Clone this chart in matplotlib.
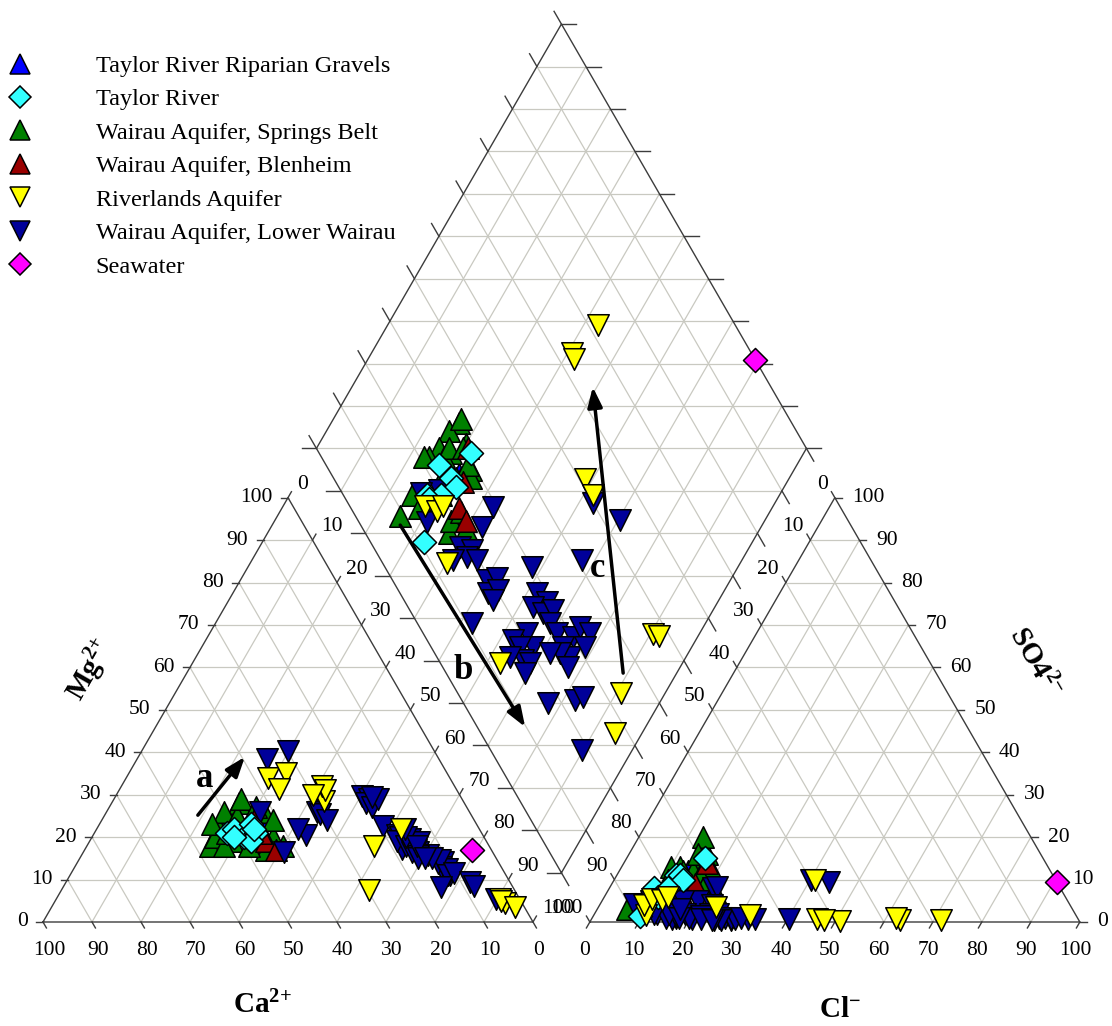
import numpy as np
import matplotlib
matplotlib.use('Agg')
import matplotlib.pyplot as plt
from matplotlib.lines import Line2D

plt.rcParams['font.family'] = ['Liberation Serif', 'DejaVu Serif']
plt.rcParams['mathtext.fontset'] = 'custom'
plt.rcParams['mathtext.rm'] = 'Liberation Serif'
plt.rcParams['mathtext.bf'] = 'Liberation Serif:bold'

# --- sample compositions (% meq): Ca, Mg (cations) and Cl, SO4 (anions) ---
riparian_ca = [43.0, 48.0]
riparian_mg = [25.0, 22.0]
riparian_cl = [14.0, 12.0]
riparian_so4 = [12.0, 10.0]

taylor_ca = [52.0, 50.0, 49.0, 46.0, 48.0, 46.0, 46.0, 51.0]
taylor_mg = [21.0, 22.0, 20.0, 21.0, 19.0, 23.0, 22.0, 20.0]
taylor_cl = [12.0, 9.0, 13.0, 14.0, 9.5, 12.0, 16.0, 11.0]
taylor_so4 = [11.0, 8.0, 11.0, 10.0, 1.5, 8.0, 15.0, 6.0]

springs_ca = [57, 43, 46, 51, 53, 45, 50, 55, 45, 45, 46, 49, 48,
              49, 45, 52, 45, 42, 54, 41, 52, 43, 54, 49, 42]
springs_mg = [18, 20, 28, 24, 22, 21, 26, 20, 19, 22, 17, 23, 25,
              21, 24, 19, 29, 26, 18, 24, 21, 27, 23, 18, 18]
springs_cl = [6, 10, 16, 15, 14, 17, 13, 9, 12, 16, 14, 15, 12,
              18, 11, 10, 13, 13, 8, 17, 19, 14, 11, 22, 16]
springs_so4 = [3, 7, 16, 14, 11, 12, 9, 5, 7, 10, 8, 12, 13,
               13, 9, 13, 20, 12, 6, 11, 8, 16, 10, 7, 5]

blenheim_ca = [45.0, 45.0, 44.0, 45.0]
blenheim_mg = [24.0, 19.0, 17.0, 21.0]
blenheim_cl = [17.0, 15.0, 16.0, 17.0]
blenheim_so4 = [14.0, 7.0, 6.0, 9.0]

riverlands_ca = [28.4, 27.0, 27.0, 23.5, 16.0, 4.0, 3.5, 4.0, 2.0,
                 29.7, 30.0, 37.0, 33.0, 36.1]
riverlands_mg = [28.6, 32.0, 31.0, 18.0, 22.0, 5.5, 4.5, 5.0, 3.5,
                 7.5, 30.0, 34.0, 35.0, 31.4]
riverlands_cl = [71.5, 63.0, 62.0, 51.0, 41.0, 46.0, 47.5, 31.8, 24.0,
                 10.7, 9.2, 10.0, 12.0, 13.0]
riverlands_so4 = [0.5, 0.5, 1.0, 0.3, 10.0, 0.8, 0.4, 1.6, 3.5,
                  1.6, 3.9, 5.5, 5.3, 6.0]

lower_ca = [28.5, 31.1, 42.6, 30.8, 36.1, 30.1, 37.0, 19.9, 18.9, 20.0,
            19.3, 17.1, 18.2, 19.3, 17.6, 15.3, 17.1, 15.6, 13.9, 15.3,
            13.5, 18.0, 18.3, 15.4, 17.0, 16.4, 15.7, 16.0, 15.9, 11.3,
            12.2, 11.4, 12.3, 11.2, 11.7, 11.9, 10.3, 13.2, 14.7, 15.1,
            14.6, 14.6, 8.2, 7.7, 4.8, 29.7, 35.1, 42.8]
lower_mg = [28.6, 25.9, 16.5, 25.5, 20.4, 24.0, 22.0, 29.8, 29.0, 28.0,
            27.0, 29.0, 29.5, 22.7, 20.4, 19.6, 20.0, 18.8, 18.8, 16.5,
            15.7, 17.3, 19.0, 17.0, 18.0, 16.5, 15.5, 15.0, 20.0, 14.1,
            13.0, 11.0, 14.0, 12.5, 14.5, 11.0, 11.5, 15.0, 18.0, 22.0,
            15.0, 8.2, 9.4, 8.6, 5.5, 40.4, 38.4, 25.9]
lower_cl = [21.1, 19.5, 14.7, 15.8, 15.9, 16.6, 12.7, 15.3, 16.6, 17.0,
            18.4, 16.7, 6.9, 21.8, 27.0, 28.5, 24.5, 22.9, 28.4, 25.1,
            26.3, 20.4, 14.5, 19.8, 16.6, 16.4, 16.3, 15.1, 9.9, 29.3,
            31.9, 33.3, 25.9, 26.6, 23.6, 25.1, 30.4, 22.0, 40.2, 40.2,
            44.1, 15.2, 22.3, 24.6, 17.6, 17.0, 12.0, 12.0]
lower_so4 = [8.0, 5.0, 3.0, 4.0, 2.0, 3.0, 2.0, 4.0, 5.0, 1.0,
             2.0, 1.5, 4.3, 8.2, 1.0, 0.5, 1.0, 3.9, 0.8, 2.0,
             1.0, 0.8, 3.0, 1.0, 1.5, 0.8, 2.0, 1.0, 5.0, 0.8,
             0.8, 0.8, 1.0, 0.5, 2.0, 0.5, 1.0, 1.5, 0.8, 9.8,
             9.4, 2.0, 0.8, 0.5, 1.0, 3.0, 4.0, 2.0]

sea_ca = [3.9]
sea_mg = [17.0]
sea_cl = [90.6]
sea_so4 = [9.4]

H = np.sqrt(3) / 2
GAP = 11.6      # spacing between the two triangles
PX = 4.9        # pixels per percent


def tri(x0, right, top):
    return (x0 + right + top / 2.0, top * H)


def dia(s, c):
    return (100 + GAP / 2 + 0.5 * (s - c), GAP * H + H * (s + c))


def cation_xy(ca, mg):
    ca, mg = np.asarray(ca), np.asarray(mg)
    na = 100 - ca - mg
    return na + mg / 2, mg * H


def anion_xy(cl, so4):
    cl, so4 = np.asarray(cl), np.asarray(so4)
    return 100 + GAP + cl + so4 / 2, so4 * H


def diamond_xy(ca, mg, cl, so4):
    c = np.asarray(ca) + np.asarray(mg)
    s = np.asarray(cl) + np.asarray(so4)
    return 100 + GAP / 2 + 0.5 * (s - c), GAP * H + H * (s + c)


fig = plt.figure(figsize=(11.12, 10.26), dpi=100)
ax = fig.add_axes([0, 0, 1, 1])
ax.set_xlim(-43 / PX, (1112 - 43) / PX)
ax.set_ylim(-(1026 - 922) / PX, 922 / PX)
ax.axis('off')

GRID = dict(color='#c9c9c1', lw=0.9, zorder=1, solid_capstyle='butt')
EDGE = dict(color='#3c3c3c', lw=1.0, zorder=2)
TICKFONT = 15.5


def seg(p, q, **kw):
    ax.plot([p[0], q[0]], [p[1], q[1]], **kw)


def draw_triangle(x0):
    for k in range(10, 100, 10):
        seg(tri(x0, 0, k), tri(x0, 100 - k, k), **GRID)
        seg(tri(x0, k, 0), tri(x0, k, 100 - k), **GRID)
        seg(tri(x0, k, 0), tri(x0, 0, k), **GRID)
    corners = [tri(x0, 0, 0), tri(x0, 100, 0), tri(x0, 0, 100), tri(x0, 0, 0)]
    ax.plot([p[0] for p in corners], [p[1] for p in corners], **EDGE)


draw_triangle(0)
draw_triangle(100 + GAP)

# diamond grid
for k in range(10, 100, 10):
    seg(dia(k, 0), dia(k, 100), **GRID)
    seg(dia(0, k), dia(100, k), **GRID)
for m in range(10, 200, 10):
    if m <= 100:
        seg(dia(0, m), dia(m, 0), **GRID)
    else:
        seg(dia(m - 100, 100), dia(100, m - 100), **GRID)
corners = [dia(0, 0), dia(100, 0), dia(100, 100), dia(0, 100), dia(0, 0)]
ax.plot([p[0] for p in corners], [p[1] for p in corners], **EDGE)

# ticks and tick labels
TL = 1.4
DL = 3.0
XR = 100 + GAP
for k in range(0, 101, 10):
    lab = str(k)
    # Mg (left edge, left triangle)
    p = tri(0, 0, k)
    seg(p, (p[0] - TL, p[1]), **EDGE)
    ax.text(p[0] - 3.1, p[1], lab, ha='right', va='center', fontsize=TICKFONT)
    # Ca (base, left triangle)
    p = tri(0, 100 - k, 0)
    seg(p, (p[0] + 0.5 * TL, p[1] - H * TL), **EDGE)
    ax.text(p[0] + 1.2, -5.9, lab, ha='center', va='center', fontsize=TICKFONT)
    # Na+K (right edge, left triangle)
    p = tri(0, k, 100 - k)
    seg(p, (p[0] + 0.5 * TL, p[1] + H * TL), **EDGE)
    ax.text(p[0] + 1.8, p[1] + 2.7, lab, ha='left', va='center', fontsize=TICKFONT)
    # Cl (base, right triangle)
    p = tri(XR, k, 0)
    seg(p, (p[0] - 0.5 * TL, p[1] - H * TL), **EDGE)
    ax.text(p[0] - 1.0, -5.9, lab, ha='center', va='center', fontsize=TICKFONT)
    # SO4 (right edge, right triangle)
    p = tri(XR, 100 - k, k)
    seg(p, (p[0] + TL, p[1]), **EDGE)
    ax.text(p[0] + 3.5, p[1], lab, ha='left', va='center', fontsize=TICKFONT)
    # HCO3 (left edge, right triangle)
    p = tri(XR, 0, 100 - k)
    seg(p, (p[0] - 0.5 * TL, p[1] + H * TL), **EDGE)
    ax.text(p[0] - 1.4, p[1] + 2.7, lab, ha='right', va='center', fontsize=TICKFONT)
    # diamond edges
    p = dia(k, 100)
    seg(p, (p[0] - 0.5 * DL, p[1] + H * DL), **EDGE)
    p = dia(100, k)
    seg(p, (p[0] + DL, p[1]), **EDGE)
    p = dia(0, k)
    seg(p, (p[0] - DL, p[1]), **EDGE)
    p = dia(k, 0)
    seg(p, (p[0] + 0.5 * DL, p[1] - H * DL), **EDGE)

# axis titles
BOLD = dict(fontsize=21, ha='center', va='center')
ax.text(44.7, -16.9, r'$\mathbf{Ca^{2{+}}}$', **BOLD)
ax.text(162.7, -18.0, r'$\mathbf{Cl^{{-}}}$', **BOLD)
ax.text(9.6, 51.4, r'$\mathbf{Mg^{2{+}}}$', rotation=60, **BOLD)
ax.text(202.4, 52.9, r'$\mathbf{SO4^{2{-}}}$', rotation=-60, **BOLD)

# samples
groups = [
    ('Taylor River Riparian Gravels', riparian_ca, riparian_mg, riparian_cl, riparian_so4, '^', '#0000ff', 240, 3),
    ('Taylor River', taylor_ca, taylor_mg, taylor_cl, taylor_so4, 'D', '#33ffff', 150, 7),
    ('Wairau Aquifer, Springs Belt', springs_ca, springs_mg, springs_cl, springs_so4, '^', '#008000', 240, 4),
    ('Wairau Aquifer, Blenheim', blenheim_ca, blenheim_mg, blenheim_cl, blenheim_so4, '^', '#990000', 240, 5),
    ('Riverlands Aquifer', riverlands_ca, riverlands_mg, riverlands_cl, riverlands_so4, 'v', '#ffff00', 240, 8),
    ('Wairau Aquifer, Lower Wairau', lower_ca, lower_mg, lower_cl, lower_so4, 'v', '#000099', 240, 6),
    ('Seawater', sea_ca, sea_mg, sea_cl, sea_so4, 'D', '#ff00ff', 150, 9),
]

handles = []
for name, ca, mg, cl, so4, mk, col, size, z in groups:
    style = dict(marker=mk, s=size, c=col, edgecolors='black', linewidths=1.1, zorder=z)
    for x, y in (cation_xy(ca, mg), anion_xy(cl, so4), diamond_xy(ca, mg, cl, so4)):
        ax.scatter(x, y, **style)
    handles.append(Line2D([], [], ls='none', marker=mk, markerfacecolor=col,
                          markeredgecolor='black', markeredgewidth=1.1,
                          markersize=np.sqrt(size) * 0.95, label=name))

fig.legend(handles=handles, loc='upper left', bbox_to_anchor=(8 / 1112, 1 - 55 / 1026),
           frameon=False, fontsize=17.5, borderpad=0, borderaxespad=0,
           handlelength=1.0, handletextpad=2.6, labelspacing=0.47)

# evolution arrows
ARROW = dict(arrowstyle='-|>,head_length=0.6,head_width=0.22', lw=2.5, color='black',
             mutation_scale=20, shrinkA=0, shrinkB=0)
ax.annotate('', xy=(41.2, 33.7), xytext=(31.6, 21.8), arrowprops=ARROW, zorder=10)
ax.annotate('', xy=(98.4, 39.8), xytext=(72.9, 81.0), arrowprops=ARROW, zorder=10)
ax.annotate('', xy=(112.2, 109.2), xytext=(118.4, 50.8), arrowprops=ARROW, zorder=10)
ax.text(32.9, 29.2, 'a', fontsize=25, fontweight='bold', ha='center', va='center', zorder=10)
ax.text(85.7, 51.4, 'b', fontsize=25, fontweight='bold', ha='center', va='center', zorder=10)
ax.text(113.1, 72.2, 'c', fontsize=25, fontweight='bold', ha='center', va='center', zorder=10)

fig.savefig('out.png', dpi=100)
